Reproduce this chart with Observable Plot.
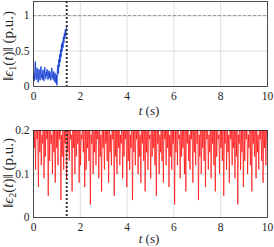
<!DOCTYPE html>
<html><head><meta charset="utf-8">
<script src="https://cdn.jsdelivr.net/npm/d3@7"></script>
<script src="https://cdn.jsdelivr.net/npm/@observablehq/plot@0.6"></script>
<style>body{margin:0;background:#fff}#c svg{display:block}#c svg text,#c svg g{font-family:"Liberation Serif",serif !important}</style>
</head><body><div id="c"></div>
<script>
const xTicks = [0, 2, 4, 6, 8, 10];
const y1Ticks = [0, 0.5, 1];
const y2Ticks = [0, 0.1, 0.2];
const switchTime = 1.42;
const threshold = 1;
const blueStep = 0.02;
const blueValues = [0.12,0.18,0.08,0.22,0.35,0.14,0.1,0.2,0.26,0.12,0.06,0.18,0.24,0.15,0.09,0.21,0.28,0.13,0.17,0.1,0.23,0.16,0.08,0.19,0.27,0.14,0.11,0.2,0.15,0.24,0.18,0.1,0.16,0.22,0.12,0.2,0.14,0.09,0.18,0.26,0.13,0.17,0.1,0.21,0.15,0.07,0.19,0.12,0.05,0.16,0.02,0.2,0.3,0.18,0.38,0.28,0.45,0.35,0.52,0.42,0.6,0.5,0.63,0.55,0.7,0.62,0.75,0.68,0.8,0.72,0.82,0.85];
const redStep = 0.03;
const redValues = [
0.23,0.16,0.21,0.11,0.25,0.18,0.2,0.07,0.24,0.15,0.22,0.12,0.19,0.17,0.26,0.09,0.21,0.14,0.23,0.18,
0.2,0.05,0.24,0.13,0.22,0.17,0.19,0.1,0.25,0.15,0.21,0.08,0.23,0.16,0.2,0.12,0.26,0.18,0.22,0.04,
0.19,0.14,0.24,0.11,0.21,0.17,0.23,0.09,0.2,0.15,0.25,0.13,0.22,0.18,0.19,0.06,0.24,0.16,0.21,0.1,
0.23,0.14,0.2,0.17,0.26,0.08,0.22,0.12,0.19,0.18,0.24,0.15,0.21,0.07,0.23,0.11,0.2,0.16,0.25,0.13,
0.22,0.03,0.19,0.17,0.24,0.1,0.21,0.15,0.23,0.12,0.2,0.18,0.26,0.09,0.22,0.14,0.19,0.06,0.24,0.16,
0.21,0.11,0.23,0.17,0.2,0.13,0.25,0.08,0.22,0.15,0.19,0.12,0.24,0.18,0.21,0.05,0.23,0.14,0.2,0.1,
0.26,0.16,0.22,0.12,0.19,0.17,0.24,0.09,0.21,0.14,0.23,0.18,0.2,0.07,0.25,0.13,0.22,0.11,0.19,0.16,
0.24,0.04,0.21,0.15,0.23,0.12,0.2,0.18,0.26,0.1,0.22,0.14,0.19,0.08,0.24,0.17,0.21,0.13,0.23,0.06,
0.2,0.15,0.25,0.11,0.22,0.18,0.19,0.09,0.24,0.14,0.21,0.16,0.23,0.12,0.2,0.05,0.26,0.17,0.22,0.1,
0.19,0.15,0.24,0.13,0.21,0.08,0.23,0.18,0.2,0.12,0.25,0.16,0.22,0.07,0.19,0.14,0.24,0.11,0.21,0.17,
0.23,0.03,0.2,0.15,0.26,0.12,0.22,0.18,0.19,0.09,0.24,0.14,0.21,0.16,0.23,0.1,0.2,0.06,0.25,0.17,
0.22,0.13,0.19,0.11,0.24,0.18,0.21,0.08,0.23,0.15,0.2,0.12,0.26,0.17,0.22,0.04,0.19,0.14,0.24,0.1,
0.21,0.16,0.23,0.13,0.2,0.07,0.25,0.18,0.22,0.11,0.19,0.15,0.24,0.09,0.21,0.17,0.23,0.12,0.2,0.06,
0.26,0.14,0.22,0.18,0.19,0.1,0.24,0.16,0.21,0.13,0.23,0.05,0.2,0.17,0.25,0.11,0.22,0.15,0.19,0.08,
0.24,0.18,0.21,0.12,0.23,0.16,0.2,0.09,0.26,0.14,0.22,0.03,0.19,0.17,0.24,0.11,0.21,0.15,0.23,0.07,
0.2,0.13,0.25,0.18,0.22,0.1,0.19,0.16,0.24,0.12,0.21,0.06,0.23,0.17,0.2,0.14,0.26,0.09,0.22,0.15,
0.19,0.11,0.24,0.18,0.21,0.13,0.23,0.08,0.2,0.16,0.25,0.12,0.22,0.17];

const blue = blueValues.map((v, i) => ({t: i * blueStep, v}));
const red = redValues.map((v, i) => ({t: i * redStep, v})).filter(d => d.t <= 10);

const font = "Liberation Serif";
const common = {
  width: 274, marginLeft: 33, marginRight: 7,
  style: {fontFamily: font, fontSize: "11.5px", color: "#262626", background: "#fff"},
};

const topChart = Plot.plot({
  ...common, height: 123, marginTop: 1, marginBottom: 37,
  x: {domain: [0, 10], ticks: xTicks, tickSize: 0, tickPadding: 5, label: null, tickFormat: d => String(d)},
  y: {domain: [0, 1.2], ticks: y1Ticks, tickSize: 0, tickPadding: 4, label: null, tickFormat: d => String(d)},
  marks: [
    Plot.gridX(xTicks, {stroke: "#dedede", strokeOpacity: 1}),
    Plot.gridY(y1Ticks, {stroke: "#dedede", strokeOpacity: 1}),
    Plot.ruleY([threshold], {stroke: "#7a7a7a", strokeWidth: 0.8, strokeDasharray: "3,2"}),
    Plot.lineY(blue, {x: "t", y: "v", stroke: "#6f95ff", strokeWidth: 1.6, strokeOpacity: 0.6}),
    Plot.lineY(blue, {x: "t", y: "v", stroke: "#0a32c8", strokeWidth: 0.7}),
    Plot.ruleX([switchTime], {stroke: "#333", strokeWidth: 2, strokeDasharray: "2,2"}),
    Plot.frame({stroke: "#262626", strokeWidth: 0.8})
  ]
});

const bottomChart = Plot.plot({
  ...common, height: 124, marginTop: 7, marginBottom: 30,
  x: {domain: [0, 10], ticks: xTicks, tickSize: 0, tickPadding: 5, label: null, tickFormat: d => String(d)},
  y: {domain: [0, 0.2], ticks: y2Ticks, tickSize: 0, tickPadding: 4, label: null, tickFormat: d => String(d)},
  marks: [
    Plot.gridX(xTicks, {stroke: "#dedede", strokeOpacity: 1}),
    Plot.gridY(y2Ticks, {stroke: "#dedede", strokeOpacity: 1}),
    Plot.lineY(red, {x: "t", y: "v", stroke: "#ff0000", strokeWidth: 0.8, strokeOpacity: 0.85, clip: true}),
    Plot.ruleX([switchTime], {stroke: "#333", strokeWidth: 2, strokeDasharray: "2,2"}),
    Plot.frame({stroke: "#262626", strokeWidth: 0.8})
  ]
});

function addLabels(svg, sub, yCenter, xLabelY) {
  const s = d3.select(svg);
  const yl = s.append("text")
    .attr("transform", `translate(13,${yCenter}) rotate(-90)`)
    .attr("text-anchor", "middle")
    .attr("fill", "#262626")
    .style("font-size", "15px");
  yl.append("tspan").text("‖");
  yl.append("tspan").attr("font-style", "italic").text("ϵ");
  yl.append("tspan").attr("font-size", "10px").attr("dy", "3").text(sub);
  yl.append("tspan").attr("dy", "-3").text("(");
  yl.append("tspan").attr("font-style", "italic").text("t");
  yl.append("tspan").text(")‖ (p.u.)");
  const xl = s.append("text")
    .attr("x", 149).attr("y", xLabelY)
    .attr("text-anchor", "middle")
    .attr("fill", "#262626")
    .style("font-size", "13px");
  xl.append("tspan").attr("font-style", "italic").text("t");
  xl.append("tspan").text(" (s)");
}
addLabels(topChart, "1", 46, 115);
addLabels(bottomChart, "2", 50, 120);

document.getElementById("c").append(topChart, bottomChart);
</script></body></html>
